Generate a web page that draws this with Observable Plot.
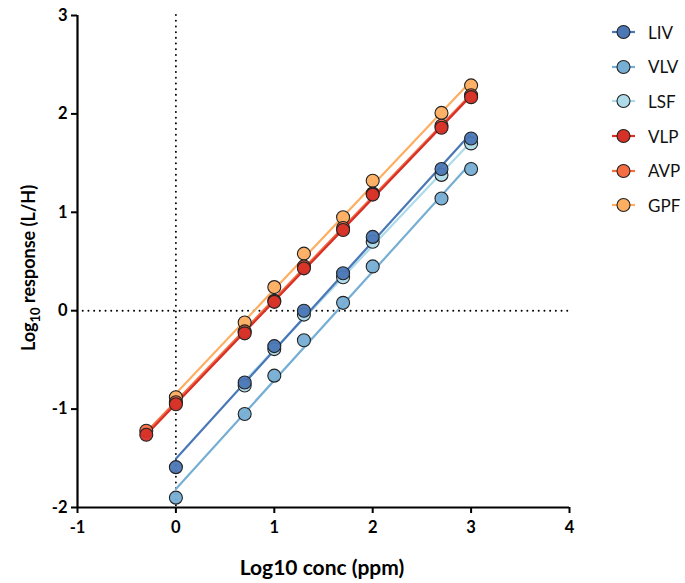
<!DOCTYPE html>
<html><head><meta charset="utf-8">
<script src="https://cdn.jsdelivr.net/npm/d3@7"></script>
<script src="https://cdn.jsdelivr.net/npm/@observablehq/plot@0.6"></script>
<style>
body{margin:0;background:#fff;font-family:Lato,"Open Sans",sans-serif}
#wrap{position:relative;width:685px;height:583px}
#legend{position:absolute;left:610px;top:15px}
.item{display:flex;align-items:center;height:34.6px;font-size:17px;color:#111}
.item svg{margin-right:12px}
</style></head><body><div id="wrap"><div id="legend"></div></div>
<script>
// x positions: log10 of concentrations 0.5, 1, 5, 10, 20, 50, 100, 500, 1000 ppm
const logConc = [-0.301, 0, 0.699, 1, 1.301, 1.699, 2, 2.699, 3];
const seriesNames = ["LIV", "VLV", "LSF", "VLP", "AVP", "GPF"];
const seriesColors = ["#4a77b6", "#76aed4", "#aedbea", "#d73027", "#f46d43", "#fdae61"];
const LIV = [null, -1.59, -0.73, -0.36, 0.00, 0.38, 0.75, 1.44, 1.75];
const VLV = [null, -1.90, -1.05, -0.66, -0.30, 0.08, 0.45, 1.14, 1.44];
const LSF = [null, null, -0.76, -0.39, -0.04, 0.34, 0.70, 1.38, 1.70];
const VLP = [-1.26, -0.95, -0.23, 0.09, 0.43, 0.82, 1.18, 1.86, 2.17];
const AVP = [-1.22, -0.93, -0.21, 0.10, 0.45, 0.84, 1.19, 1.88, 2.19];
const GPF = [null, -0.88, -0.12, 0.24, 0.58, 0.95, 1.32, 2.01, 2.29];
const xTicks = [-1, 0, 1, 2, 3, 4];
const yTicks = [-2, -1, 0, 1, 2, 3];

const seriesValues = {LIV, VLV, LSF, VLP, AVP, GPF};
const drawOrder = ["GPF", "AVP", "VLP", "LSF", "VLV", "LIV"];
const rows = [];
for (const s of drawOrder) {
  seriesValues[s].forEach((v, i) => { if (v != null) rows.push({series: s, x: logConc[i], y: v}); });
}

const fontFam = "Lato, 'Open Sans', sans-serif";
const plot = Plot.plot({
  width: 685, height: 583,
  marginLeft: 77, marginRight: 116, marginTop: 15, marginBottom: 76,
  style: {fontFamily: fontFam, background: "white", color: "#000"},
  x: {domain: [-1, 4], label: null},
  y: {domain: [-2, 3], label: null},
  color: {domain: seriesNames, range: seriesColors},
  marks: [
    Plot.ruleX([0], {stroke: "#000", strokeWidth: 1.9, strokeDasharray: "0.1,5.6", strokeLinecap: "round"}),
    Plot.ruleY([0], {stroke: "#000", strokeWidth: 1.9, strokeDasharray: "0.1,5.6", strokeLinecap: "round"}),
    Plot.linearRegressionY(rows, {x: "x", y: "y", stroke: "series", z: "series", ci: 0, strokeWidth: 2.2}),
    Plot.dot(rows, {x: "x", y: "y", fill: "series", r: 6.5, stroke: "#222", strokeWidth: 1.1, fillOpacity: 0.95}),
    Plot.axisX({ticks: xTicks, tickSize: 6, tickPadding: 8, tickFormat: d => String(d), fontSize: 16.5, fontWeight: "bold", strokeWidth: 2, label: null}),
    Plot.axisY({ticks: yTicks, tickSize: 6, tickPadding: 4, tickFormat: d => String(d), fontSize: 16.5, fontWeight: "bold", strokeWidth: 2, label: null}),
    Plot.ruleX([-1], {stroke: "#000", strokeWidth: 2.2}),
    Plot.ruleY([-2], {stroke: "#000", strokeWidth: 2.2})
  ]
});
document.getElementById("wrap").prepend(plot);

const svg = d3.select(plot);
svg.append("text")
  .attr("x", 322).attr("y", 575)
  .attr("text-anchor", "middle").attr("font-size", 21).attr("font-weight", "bold")
  .attr("font-family", fontFam).attr("fill", "#000")
  .text("Log10 conc (ppm)");
const yl = svg.append("text")
  .attr("transform", `translate(35,268) rotate(-90)`)
  .attr("text-anchor", "middle").attr("font-size", 18).attr("font-weight", "bold")
  .attr("font-family", fontFam).attr("fill", "#000");
yl.append("tspan").text("Log");
yl.append("tspan").attr("font-size", 13).attr("dy", 5).text("10");
yl.append("tspan").attr("dy", -5).text(" response (L/H)");

const legend = d3.select("#legend");
seriesNames.forEach((s, i) => {
  const it = legend.append("div").attr("class", "item");
  const g = it.append("svg").attr("width", 26).attr("height", 16);
  g.append("line").attr("x1", 2).attr("x2", 25).attr("y1", 8).attr("y2", 8).attr("stroke", seriesColors[i]).attr("stroke-width", 2.2);
  g.append("circle").attr("cx", 13.5).attr("cy", 8).attr("r", 6.5).attr("fill", seriesColors[i]).attr("stroke", "#222").attr("stroke-width", 1.1);
  it.append("span").text(s);
});
</script>
</body></html>
